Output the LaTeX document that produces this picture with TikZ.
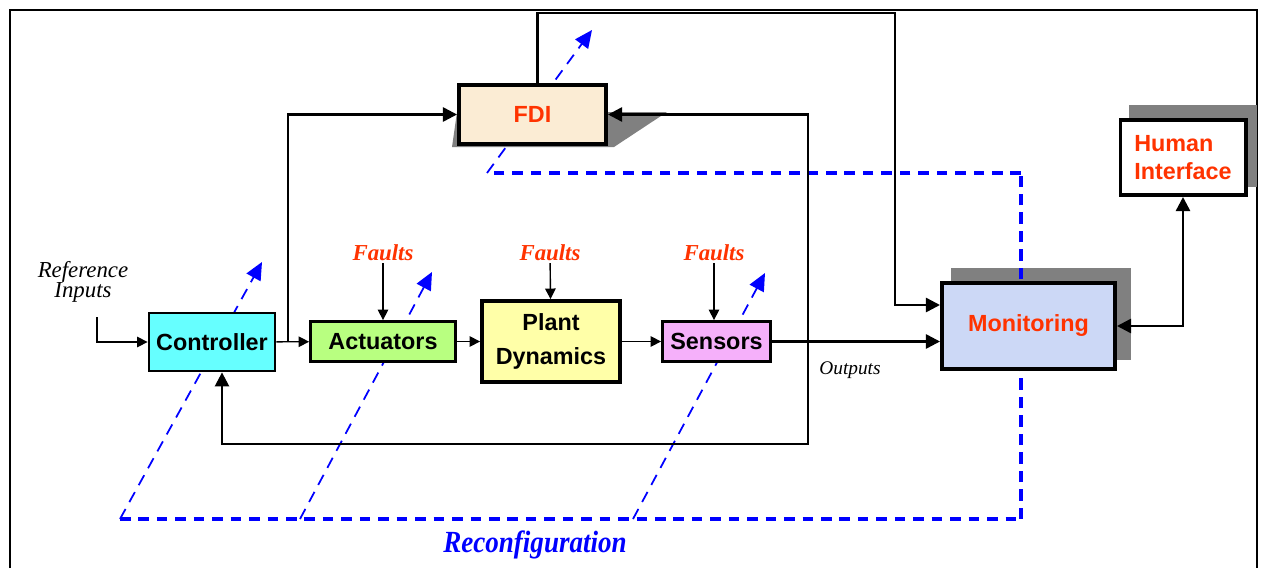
\documentclass[tikz,border=0pt]{standalone}
\usepackage{fontspec}
\setmainfont{Liberation Serif}
\setsansfont{Liberation Sans}
\usetikzlibrary{arrows.meta}

\definecolor{ctrlcyan}{RGB}{102,255,255}
\definecolor{actgreen}{RGB}{184,255,128}
\definecolor{plantyellow}{RGB}{255,255,168}
\definecolor{senspink}{RGB}{245,176,250}
\definecolor{fdipeach}{RGB}{251,236,212}
\definecolor{monblue}{RGB}{204,216,246}
\definecolor{faultred}{RGB}{255,51,0}
\definecolor{shadowgray}{RGB}{128,128,128}
\definecolor{recblue}{RGB}{0,0,255}

\begin{document}
\begin{tikzpicture}[x=0.02cm,y=-0.02cm]

        \useasboundingbox (0,0) rectangle (1261,568);
        \draw[line width=.8pt] (10,568) -- (10,10) -- (1257,10) -- (1257,568);

        % shadows
        \fill[shadowgray] (951,268) rectangle (1131,360);
        \fill[shadowgray] (1129,105) rectangle (1257,187);
        \fill[shadowgray] (457,112) -- (667,112) -- (614,147) -- (452,147) -- cycle;

        \coordinate (c1) at (120,519);
        \coordinate (c2) at (300,519);
        \coordinate (c3) at (633,519);
        \coordinate (c4) at (1021,519);
        \coordinate (c5) at (1021,173);
        \coordinate (c6) at (487,173);
        \coordinate (t1) at (262,262);
        \coordinate (t2) at (432,272);
        \coordinate (t3) at (765,273);
        \coordinate (t4) at (592,30);

        % reconfiguration paths
        \draw[draw=recblue, line width=2.4pt, dash pattern=on 6pt off 4.5pt] (c1) -- (c4);
        \draw[draw=recblue, line width=2pt, dash pattern=on 6.5pt off 4pt] (c4) -- (c5);
        \draw[draw=recblue, line width=2pt, dash pattern=on 6pt off 4.5pt] (c5) -- (c6);
        \begin{scope}[draw=recblue, fill=recblue, line width=1pt, dash pattern=on 6.5pt off 4.5pt, -{Triangle[length=10pt,width=9pt]}]
          \draw (c1) -- (t1);
          \draw (c2) -- (t2);
          \draw (c3) -- (t3);
          \draw (c6) -- (t4);
        \end{scope}

        \begin{scope}[every node/.style={draw, line width=1.6pt, inner sep=0pt, align=center,
            font=\sffamily\bfseries\fontsize{13.3}{19}\selectfont}]
          \node[fill=ctrlcyan, minimum width=2.52cm, minimum height=1.16cm]  (ctrl)  at (212,342)   {Controller};
          \node[fill=actgreen, minimum width=2.9cm, minimum height=.8cm]     (act)   at (383,341.5) {Actuators};
          \node[fill=plantyellow, line width=2.2pt, minimum width=2.76cm, minimum height=1.62cm] (plant) at (551,341.5) {Plant\\Dynamics};
          \node[fill=senspink, minimum width=2.16cm, minimum height=.8cm]    (sens)  at (716.5,341.5) {Sensors};
          \node[fill=fdipeach, text=faultred, line width=2pt, minimum width=2.95cm, minimum height=1.19cm] (fdi) at (532.5,114.5) {FDI};
          \node[fill=monblue, text=faultred, line width=2pt, minimum width=3.47cm, minimum height=1.73cm]  (mon) at (1028.5,326) {Monitoring};
          \node[fill=white, text=faultred, line width=2pt, align=left, minimum width=2.51cm, minimum height=1.51cm,
            font=\sffamily\bfseries\fontsize{13.3}{16.4}\selectfont] (hmi) at (1183,157.5) {Human\\Interface};
        \end{scope}

        \begin{scope}[every node/.style={inner sep=1pt}]
          \node[align=center, font=\itshape\fontsize{13}{11.5}\selectfont] (ref) at (83,282) {Reference\\Inputs};
          \node[text=faultred, font=\bfseries\itshape\fontsize{13}{15}\selectfont] (fa1) at (383,253) {Faults};
          \node[text=faultred, font=\bfseries\itshape\fontsize{13}{15}\selectfont] (fa2) at (550,253) {Faults};
          \node[text=faultred, font=\bfseries\itshape\fontsize{13}{15}\selectfont] (fa3) at (714,253) {Faults};
          \node[font=\itshape\fontsize{11}{13}\selectfont] (out) at (850,370) {Outputs};
          \node[text=recblue, xscale=.88, font=\bfseries\itshape\fontsize{17.5}{20}\selectfont] (rec) at (535,545) {Reconfiguration};
        \end{scope}

        \coordinate (refin) at (97,317);
        \coordinate (split) at (288,342);
        \coordinate (tap)   at (808,343);
        \coordinate (fbc)   at (808,444);
        \coordinate (topc)  at (895,13);

        % thin signal lines
        \begin{scope}[line width=.8pt, -{Triangle[length=6pt,width=6pt]}]
          \path (refin) edge[draw, to path={|- (\tikztotarget)}] (ctrl.west);
          \path (ctrl)  edge[draw] (act);
          \path (act)   edge[draw] (plant);
          \path (plant) edge[draw] (sens);
          \draw (fa1) -- (act);
          \draw (fa2) -- (plant);
          \draw (fa3) -- (fa3 |- sens.north);
        \end{scope}

        % thick signal lines
        \begin{scope}[line width=1.4pt, -{Triangle[length=8pt,width=8pt]}]
          \draw (sens) -- (sens -| mon.west);
          \draw (split) |- (fdi.west);
          \draw (tap) |- (fdi.east);
          \draw (tap) -- (fbc) -| ([xshift=.2cm]ctrl.south);
          \draw ([xshift=.1cm]fdi.north) |- (topc) |- ([yshift=.42cm]mon.west);
          \draw[{Triangle[length=8pt,width=8pt]}-{Triangle[length=8pt,width=8pt]}] (hmi.south) |- (mon.east);
        \end{scope}

      \end{tikzpicture}
\end{document}
